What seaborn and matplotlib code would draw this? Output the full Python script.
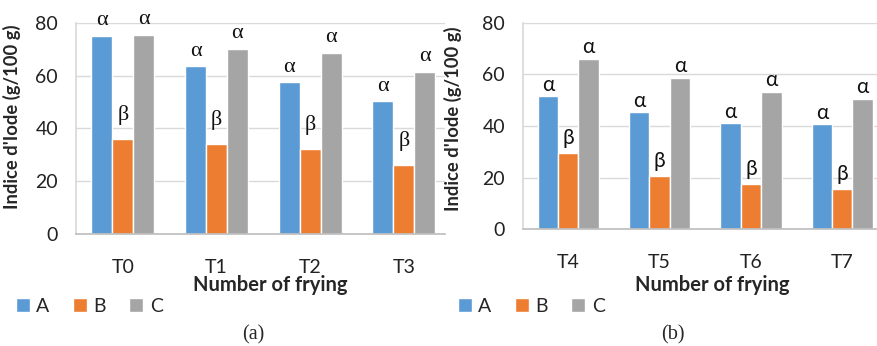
import matplotlib
matplotlib.use("Agg")
import matplotlib.pyplot as plt
import seaborn as sns
import pandas as pd

# ---- data ----
cats_a = ["T0", "T1", "T2", "T3"]
cats_b = ["T4", "T5", "T6", "T7"]
series = ["A", "B", "C"]
a_vals_a = [75.0, 63.5, 57.4, 50.2]
b_vals_a = [36.1, 34.1, 32.2, 26.3]
c_vals_a = [75.5, 70.2, 68.6, 61.4]
a_vals_b = [51.6, 45.3, 41.2, 40.7]
b_vals_b = [29.4, 20.8, 17.6, 15.5]
c_vals_b = [65.9, 58.6, 53.2, 50.4]
letters = {"A": "α", "B": "β", "C": "α"}
yticks = [0, 20, 40, 60, 80]
colors = ["#5B9BD5", "#ED7D31", "#A5A5A5"]

sns.set_theme(style="white")
plt.rcParams["font.family"] = ["Lato", "DejaVu Sans"]

fig = plt.figure(figsize=(8.77, 3.46), dpi=100)
W, H = 877, 346


def axes_px(x0, x1, ytop, ybot):
    return fig.add_axes([x0 / W, 1 - ybot / H, (x1 - x0) / W, (ybot - ytop) / H])


def build(ax, cats, av, bv, cv, xlim, ylab_xy, xlab_xy, let_font, offs, let_size):
    df = pd.DataFrame({
        "cat": cats * 3,
        "series": [s for s in series for _ in cats],
        "val": av + bv + cv,
    })
    sns.barplot(data=df, x="cat", y="val", hue="series", order=cats,
                hue_order=series, palette=colors, width=0.67, gap=0,
                saturation=1, ax=ax, legend=True)
    handles, labels = ax.get_legend_handles_labels()
    ax.get_legend().remove()
    for cont, s in zip(ax.containers, series):
        for p in cont.patches:
            ax.annotate(letters[s], (p.get_x() + p.get_width() / 2, p.get_height()),
                        xytext=(0, offs[s]), textcoords="offset pixels",
                        ha="center", va="center", fontsize=let_size,
                        family=let_font, color="#111111", annotation_clip=False)
    ax.set_ylim(0, 80)
    ax.set_xlim(*xlim)
    ax.set_yticks(yticks)
    ax.grid(axis="y", color="#d9d9d9", lw=1)
    ax.set_axisbelow(True)
    for sp in ["top", "right"]:
        ax.spines[sp].set_visible(False)
    ax.spines["left"].set_color("#d9d9d9")
    ax.spines["bottom"].set_color("#bfbfbf")
    ax.tick_params(axis="both", length=0, labelsize=14, labelcolor="#222222")
    ax.tick_params(axis="y", pad=13)
    ax.tick_params(axis="x", pad=18)
    ax.set_ylabel("Indice d'Iode (g/100 g)", fontsize=13.2, fontweight="bold")
    ax.yaxis.set_label_coords(*ylab_xy)
    ax.set_xlabel("Number of frying", fontsize=14.5, fontweight="bold")
    ax.xaxis.set_label_coords(*xlab_xy)
    ax.xaxis.label.set_verticalalignment("center")
    return handles, labels


ax1 = axes_px(76, 445, 22.7, 234)
h1, l1 = build(ax1, cats_a, a_vals_a, b_vals_a, c_vals_a, (-0.5, 3.44),
               (-0.15, 0.554), (0.526, -0.241),
               ["Liberation Serif", "DejaVu Serif"], {"A": 15, "B": 24, "C": 15}, 16)

ax2 = axes_px(523, 877, 22.7, 229.3)
h2, l2 = build(ax2, cats_b, a_vals_b, b_vals_b, c_vals_b, (-0.495, 3.38),
               (-0.172, 0.534), (0.534, -0.27),
               ["Lato", "DejaVu Sans"], {"A": 11, "B": 15, "C": 12}, 15)

for h, l, x in [(h1, l1, 16), (h2, l2, 458)]:
    fig.legend(h, l, loc="center left", bbox_to_anchor=(x / W, 1 - 306 / H),
               ncol=3, frameon=False, fontsize=14, handlelength=0.7,
               handleheight=0.7, handletextpad=0.35, columnspacing=1.2,
               borderpad=0, borderaxespad=0)

fig.text(253 / W, 1 - 335 / H, "(a)", ha="center", va="center",
         fontsize=14.5, family=["Liberation Serif", "DejaVu Serif"])
fig.text(673 / W, 1 - 335 / H, "(b)", ha="center", va="center",
         fontsize=14.5, family=["Liberation Serif", "DejaVu Serif"])

fig.savefig("out.png", dpi=100)
